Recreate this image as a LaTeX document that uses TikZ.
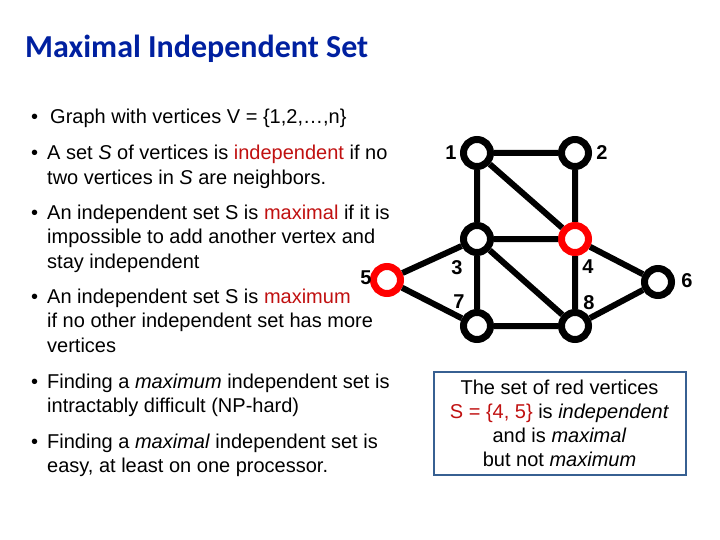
\documentclass[tikz,border=0pt]{standalone}
\usepackage{fontspec}
\setmainfont{Liberation Sans}
\newfontfamily\titlefont{Carlito}
\definecolor{titleblue}{RGB}{0,32,160}
\definecolor{indred}{RGB}{192,16,16}
\definecolor{boxblue}{RGB}{55,96,146}

\begin{document}
\begin{tikzpicture}[x=1pt,y=-1pt,
  txt/.style={anchor=base west,inner sep=0pt,align=left,font=\fontsize{20}{24.5}\selectfont},
  bul/.style={anchor=base west,inner sep=0pt,font=\fontsize{20}{24}\selectfont},
  vtx/.style={circle,draw=black,line width=7pt,minimum size=27pt,inner sep=0pt,fill=white},
  redvtx/.style={vtx,draw=red},
  num/.style={inner sep=0pt,font=\bfseries\fontsize{20}{22}\selectfont},
  edge/.style={line width=6pt}]
  \useasboundingbox (0,0) rectangle (720,540);

  \node[anchor=base west,inner sep=0pt,text=titleblue,
    font=\titlefont\bfseries\fontsize{32}{36}\selectfont] (title) at (25,58) {Maximal Independent Set};

  % bullets (base anchor sits on the last line)
  \node[bul] (d1) at (31,124) {\textbullet};
  \node[bul] (d2) at (31,160) {\textbullet};
  \node[bul] (d3) at (31,219) {\textbullet};
  \node[bul] (d4) at (31,303) {\textbullet};
  \node[bul] (d5) at (31,388) {\textbullet};
  \node[bul] (d6) at (31,448) {\textbullet};

  \node[txt] (b1) at (50,124) {Graph with vertices V = \{1,2,…,n\}};
  \node[txt] (b2) at (47,184.5) {A set \textit{S} of vertices is \textcolor{indred}{independent} if no\\
    two vertices in \textit{S} are neighbors.};
  \node[txt] (b3) at (47,268) {An independent set S is \textcolor{indred}{maximal} if it is\\
    impossible to add another vertex and\\stay independent};
  \node[txt] (b4) at (47,352) {An independent set S is \textcolor{indred}{maximum}\\
    if no other independent set has more\\vertices};
  \node[txt] (b5) at (47,412.5) {Finding a \textit{maximum} independent set is\\
    intractably difficult (NP-hard)};
  \node[txt] (b6) at (47,472.5) {Finding a \textit{maximal} independent set is\\
    easy, at least on one processor.};

  % the graph
  \node[vtx] (v1) at (477,153) {};
  \node[vtx] (v2) at (575,153) {};
  \node[vtx] (v3) at (477,239) {};
  \node[redvtx] (v4) at (575,239) {};
  \node[redvtx] (v5) at (387,280) {};
  \node[vtx] (v6) at (658,282) {};
  \node[vtx] (v7) at (477,326) {};
  \node[vtx] (v8) at (575,326) {};

  \draw[edge] (v1) -- (v2)  (v1) -- (v3)  (v1) -- (v4)  (v2) -- (v4)
              (v3) -- (v4)  (v3) -- (v5)  (v3) -- (v7)  (v3) -- (v8)
              (v4) -- (v8)  (v4) -- (v6)  (v5) -- (v7)  (v7) -- (v8)
              (v8) -- (v6);

  \node[num] (l1) at (451,153) {1};
  \node[num] (l2) at (602,153) {2};
  \node[num] (l3) at (457,268) {3};
  \node[num] (l4) at (588,267) {4};
  \node[num] (l5) at (366,278) {5};
  \node[num] (l6) at (687,281) {6};
  \node[num] (l7) at (459,302) {7};
  \node[num] (l8) at (589,303) {8};

  \node[draw=boxblue,line width=2pt,minimum width=252pt,minimum height=103pt,
    align=center,font=\fontsize{20}{24}\selectfont] (note) at (559.5,423.5)
    {The set of red vertices\\
     \textcolor{indred}{S = \{4, 5\}} is \textit{independent}\\
     and is \textit{maximal}\\
     but not \textit{maximum}};
\end{tikzpicture}
\end{document}
